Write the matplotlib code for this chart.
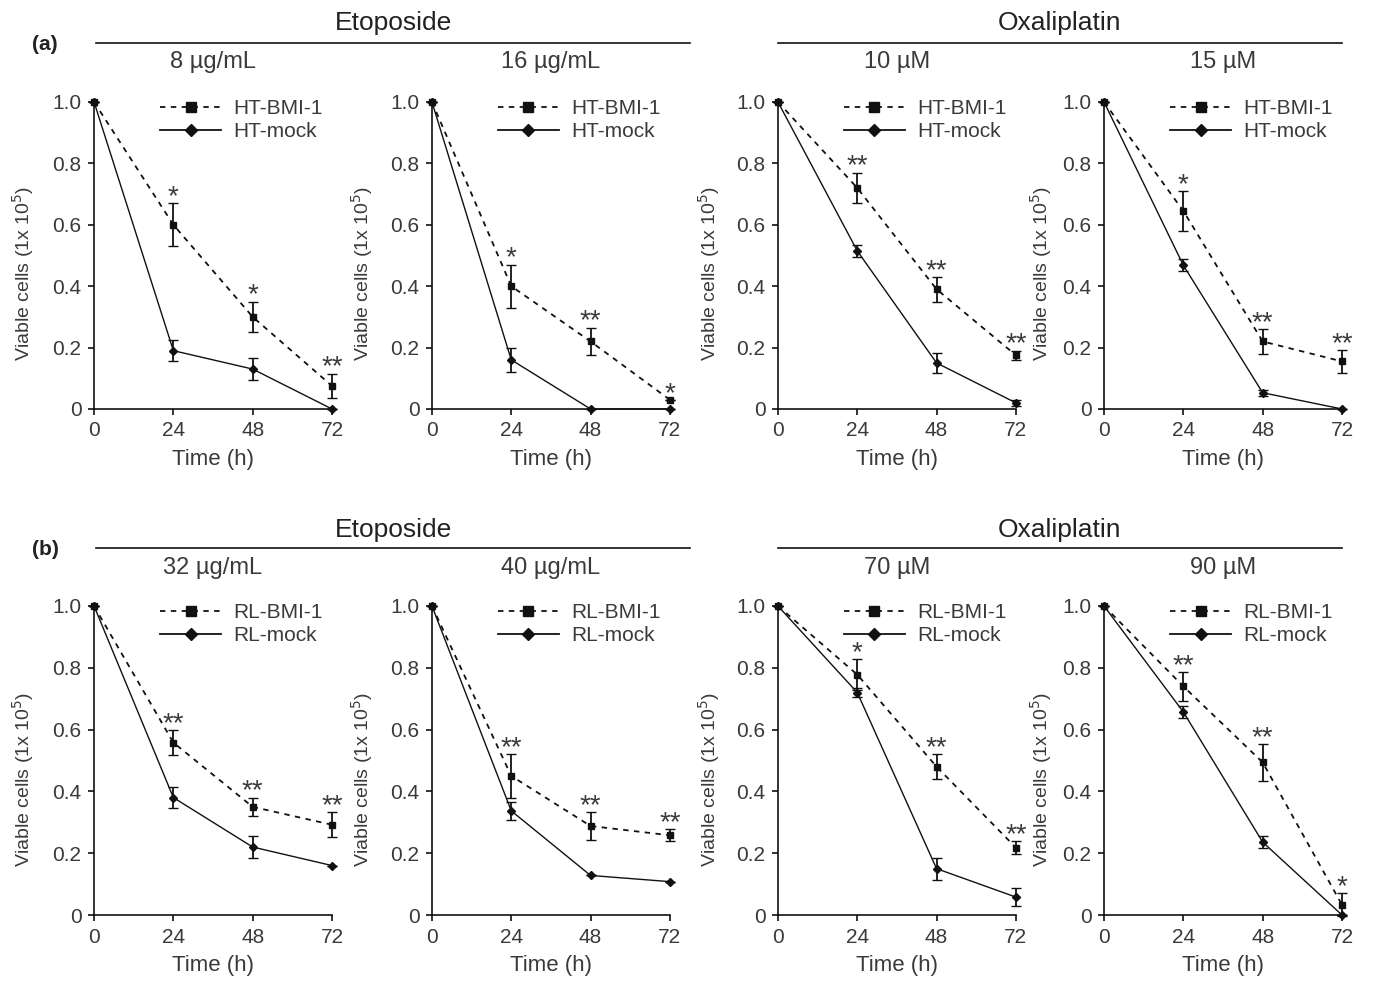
import numpy as np
from matplotlib import pyplot as plt
from matplotlib.lines import Line2D

plt.rcParams['font.family'] = ['Liberation Sans', 'DejaVu Sans']
plt.rcParams['text.color'] = '#3a3a3a'

# 時間軸
time = [0, 24, 48, 72]
time_labels = ['0', '24', '48', '72']
y_ticks = [0, 0.2, 0.4, 0.6, 0.8, 1.0]
y_labels = ['0', '0.2', '0.4', '0.6', '0.8', '1.0']

# (a) HT 細胞
a_doses = ['8 µg/mL', '16 µg/mL', '10 µM', '15 µM']
a_bmi = [[1.0, 0.60, 0.30, 0.075],
         [1.0, 0.40, 0.22, 0.03],
         [1.0, 0.72, 0.39, 0.175],
         [1.0, 0.645, 0.22, 0.155]]
a_bmi_err = [[0, 0.07, 0.05, 0.04],
             [0, 0.07, 0.045, 0.0],
             [0, 0.05, 0.04, 0.015],
             [0, 0.065, 0.04, 0.037]]
a_mock = [[1.0, 0.19, 0.13, 0.0],
          [1.0, 0.16, 0.0, 0.0],
          [1.0, 0.515, 0.15, 0.02],
          [1.0, 0.468, 0.053, 0.0]]
a_mock_err = [[0, 0.035, 0.037, 0],
              [0, 0.04, 0, 0],
              [0, 0.02, 0.033, 0.01],
              [0, 0.02, 0.01, 0]]
a_stars = [['*', '*', '**'],
           ['*', '**', '*'],
           ['**', '**', '**'],
           ['*', '**', '**']]

# (b) RL 細胞
b_doses = ['32 µg/mL', '40 µg/mL', '70 µM', '90 µM']
b_bmi = [[1.0, 0.558, 0.35, 0.292],
         [1.0, 0.45, 0.288, 0.258],
         [1.0, 0.778, 0.48, 0.218],
         [1.0, 0.74, 0.494, 0.033]]
b_bmi_err = [[0, 0.04, 0.03, 0.04],
             [0, 0.07, 0.045, 0.02],
             [0, 0.05, 0.04, 0.02],
             [0, 0.047, 0.06, 0.037]]
b_mock = [[1.0, 0.38, 0.22, 0.16],
          [1.0, 0.337, 0.128, 0.108],
          [1.0, 0.72, 0.15, 0.058],
          [1.0, 0.657, 0.236, 0.0]]
b_mock_err = [[0, 0.035, 0.037, 0],
              [0, 0.028, 0, 0],
              [0, 0.015, 0.036, 0.028],
              [0, 0.02, 0.02, 0]]
b_stars = [['**', '**', '**'],
           ['**', '**', '**'],
           ['*', '**', '**'],
           ['**', '**', '*']]

drugs = ['Etoposide', 'Oxaliplatin']

fig = plt.figure(figsize=(13.73, 9.86), dpi=100)

lefts = [0.0685, 0.3146, 0.5666, 0.8041]
width = 0.1733
# y軸ラベルの横位置 (軸の座標)
ylabel_x = [-0.245, -0.24, -0.235, -0.21]
rows = [
    dict(bottom=0.5852, height=0.3114, tag='(a)', cell='HT', doses=a_doses,
         bmi=a_bmi, bmi_err=a_bmi_err, mock=a_mock, mock_err=a_mock_err,
         stars=a_stars, title_y=0.977, line_y=0.9564, dose_y=0.937),
    dict(bottom=0.0720, height=0.3134, tag='(b)', cell='RL', doses=b_doses,
         bmi=b_bmi, bmi_err=b_bmi_err, mock=b_mock, mock_err=b_mock_err,
         stars=b_stars, title_y=0.4625, line_y=0.4442, dose_y=0.424),
]
# 下線の左右端 (図の座標)
line_spans = [(0.0699, 0.5026), (0.5666, 0.9774)]

dark = '#111111'
gray = '#3a3a3a'
dash = (0, (3, 3))

for r in rows:
    for k in range(4):
        ax = fig.add_axes([lefts[k], r['bottom'], width, r['height']])
        ax.errorbar(time, r['bmi'][k], yerr=r['bmi_err'][k], color=dark,
                    linestyle=dash, linewidth=1.3, marker='s',
                    markersize=5, capsize=3.5, elinewidth=1.3, clip_on=False,
                    zorder=3)
        ax.errorbar(time, r['mock'][k], yerr=r['mock_err'][k], color=dark,
                    linestyle='-', linewidth=1.0, marker='D',
                    markersize=4.5, capsize=3.5, elinewidth=1.3, clip_on=False,
                    zorder=3)
        # 有意差の星印
        for j, s in enumerate(r['stars'][k]):
            t = j + 1
            ax.annotate(s, (time[t], r['bmi'][k][t] + r['bmi_err'][k][t]),
                        xytext=(0, -5), textcoords='offset points',
                        ha='center', va='bottom', fontsize=20, color=gray)
        ax.set_xlim(0, 72)
        ax.set_ylim(0, 1.0)
        ax.set_xticks(time)
        ax.set_xticklabels(time_labels)
        ax.set_yticks(y_ticks)
        ax.set_yticklabels(y_labels)
        ax.tick_params(labelsize=15, length=4, width=1.2, colors=dark,
                       labelcolor=gray, pad=5)
        for sp in ['top', 'right']:
            ax.spines[sp].set_visible(False)
        for sp in ['left', 'bottom']:
            ax.spines[sp].set_linewidth(1.2)
            ax.spines[sp].set_color(dark)
        ax.set_xlabel('Time (h)', fontsize=16, color=gray, labelpad=6)
        ax.set_ylabel('Viable cells (1x 10$^5$)', fontsize=14, color=gray)
        ax.yaxis.set_label_coords(ylabel_x[k], 0.44)
        handles = [Line2D([], [], color=dark, linestyle=dash, linewidth=1.3,
                          marker='s', markersize=6.5),
                   Line2D([], [], color=dark, linestyle='-', linewidth=1.3,
                          marker='D', markersize=6.5)]
        labels = [r['cell'] + '-BMI-1', r['cell'] + '-mock']
        leg = ax.legend(handles, labels, loc='upper left',
                        bbox_to_anchor=(0.2, 1.07), frameon=False,
                        fontsize=15, handlelength=2.9, handletextpad=0.6,
                        labelspacing=0.2)
        for txt in leg.get_texts():
            txt.set_color(gray)
        fig.text(lefts[k] + width / 2, r['dose_y'], r['doses'][k],
                 ha='center', va='center', fontsize=17, color=gray)
    # 薬剤名と下線
    for d in range(2):
        x0, x1 = line_spans[d]
        fig.add_artist(Line2D([x0, x1], [r['line_y'], r['line_y']],
                              color=dark, linewidth=1.2))
        fig.text((x0 + x1) / 2, r['title_y'], drugs[d], ha='center',
                 va='center', fontsize=19, color='#222222')
    fig.text(0.033, r['line_y'] - 0.002, r['tag'], ha='center', va='center',
             fontsize=15, fontweight='bold', color='#222222')

plt.savefig('out.png', dpi=100)
